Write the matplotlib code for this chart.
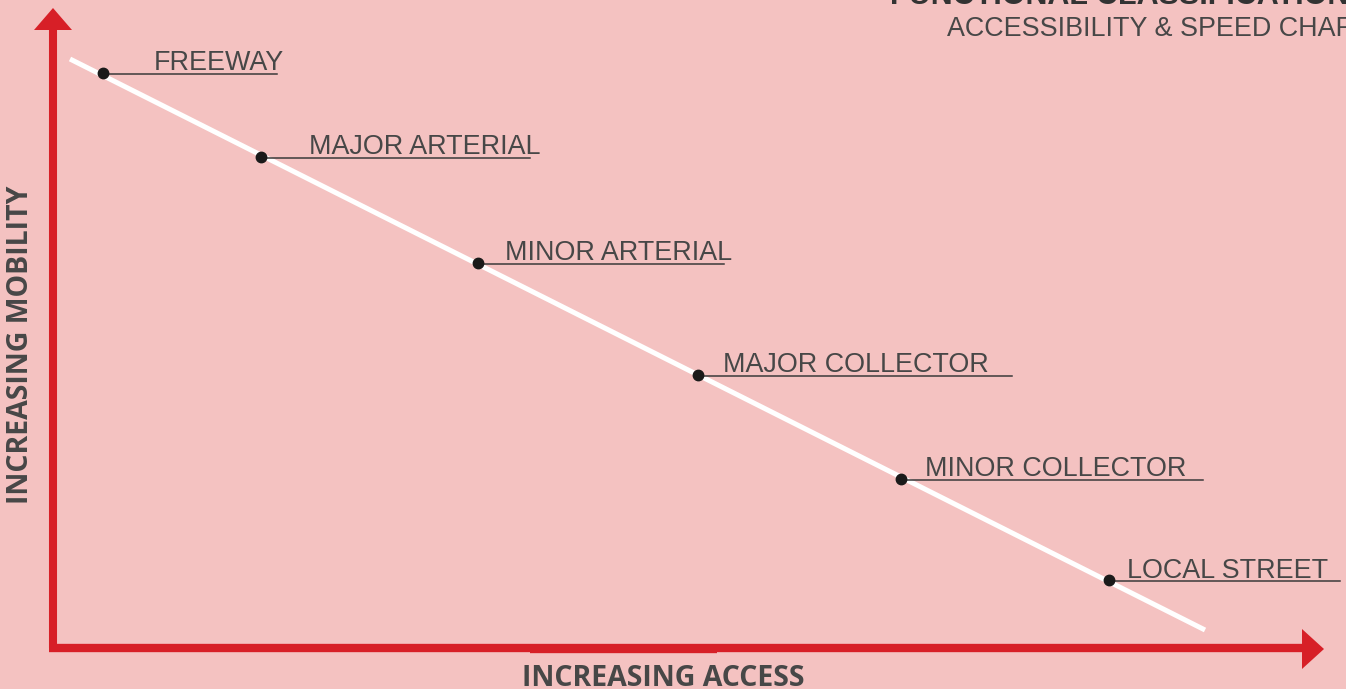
import matplotlib
matplotlib.use("Agg")
import matplotlib.pyplot as plt

# ---- data (pixel-like units) ----
classes = ["FREEWAY", "MAJOR ARTERIAL", "MINOR ARTERIAL",
           "MAJOR COLLECTOR", "MINOR COLLECTOR", "LOCAL STREET"]
access = [103, 261, 478, 698, 901, 1109]          # horizontal position
mobility = [73, 157, 263, 375, 479, 580]           # vertical position (down = less mobility)
label_x = [154, 309, 505, 723, 925, 1127]
underline_end = [277, 530, 724, 1012, 1203, 1340]
trend_x = [70, 1205]
trend_y = [59, 630]

title = "FUNCTIONAL CLASSIFICATION"
subtitle = "ACCESSIBILITY & SPEED CHART"
xlabel = "INCREASING ACCESS"
ylabel = "INCREASING MOBILITY"

BG = "#F4C2C1"
RED = "#D71F27"
TXT = "#474747"
LBL_FONT = ["Liberation Sans", "DejaVu Sans"]
AX_FONT = ["Open Sans", "DejaVu Sans"]

W, H = 1346, 689
fig = plt.figure(figsize=(W / 100, H / 100), dpi=100, facecolor=BG)
ax = fig.add_axes([0, 0, 1, 1])
ax.set_facecolor(BG)
ax.set_xlim(0, W)
ax.set_ylim(H, 0)
ax.axis("off")

# axes arrows
ax.plot([53, 53], [648, 28], color=RED, lw=5.8, solid_capstyle="butt", zorder=2)
ax.fill([34, 72, 53], [30, 30, 8], color=RED, lw=0, zorder=2)
ax.plot([49, 1303], [648, 648], color=RED, lw=6, solid_capstyle="butt", zorder=2)
ax.plot([530, 717], [649, 649], color=RED, lw=6, solid_capstyle="butt", zorder=2)
ax.fill([1302, 1302, 1324], [629, 669, 649], color=RED, lw=0, zorder=2)

# trend line
ax.plot(trend_x, trend_y, color="white", lw=3.6, solid_capstyle="butt", zorder=3)

# points, underlines, labels
for name, x, y, lx, ue in zip(classes, access, mobility, label_x, underline_end):
    ax.plot([x, ue], [y + 0.5, y + 0.5], color="#3a3a3a", lw=1.1, zorder=4)
    ax.plot(x, y, "o", color="#1a1a1a", ms=7.5, zorder=5)
    ax.text(lx, y - 2.5, name, color=TXT, fontsize=19.4, family=LBL_FONT,
            ha="left", va="baseline", zorder=6)

# titles
ax.text(890, 4, title, color="#333333", fontsize=22, fontweight="bold",
        family=LBL_FONT, ha="left", va="baseline")
ax.text(947, 36, subtitle, color=TXT, fontsize=19.4, family=LBL_FONT,
        ha="left", va="baseline")

# axis labels
ax.text(663, 686, xlabel, color=TXT, fontsize=20.5, fontweight="bold",
        family=AX_FONT, ha="center", va="baseline")
ax.text(21, 345, ylabel, color=TXT, fontsize=20.5, fontweight="bold",
        family=AX_FONT, ha="center", va="center", rotation=90)

fig.savefig("out.png", dpi=100, facecolor=BG)
